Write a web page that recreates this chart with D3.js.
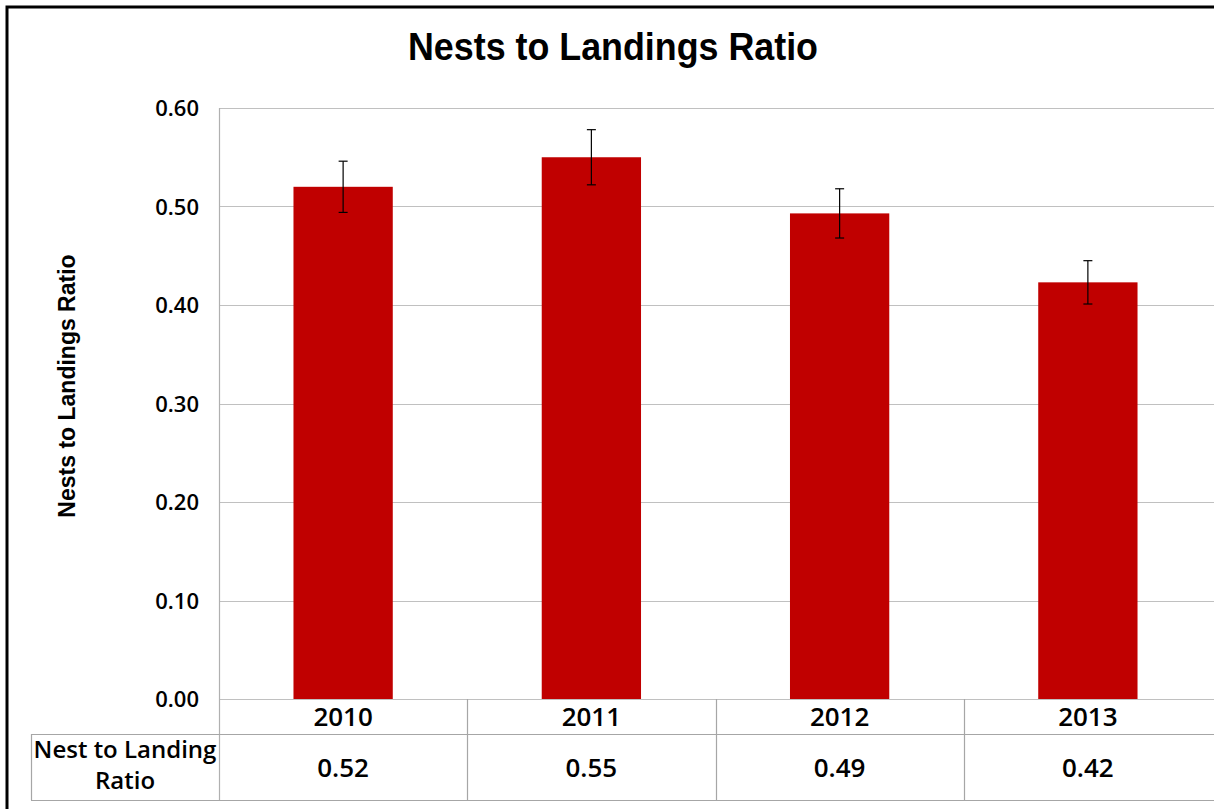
<!DOCTYPE html>
<html>
<head>
<meta charset="utf-8">
<script src="https://cdn.jsdelivr.net/npm/d3@7"></script>
<style>
  html, body { margin: 0; padding: 0; background: #fff; }
  svg { display: block; }
  .lbl { font-family: "Open Sans", "Liberation Sans", sans-serif; font-weight: 600; fill: #000; }
</style>
</head>
<body>
<svg id="chart" width="1214" height="809"></svg>
<script>
const years = ["2010", "2011", "2012", "2013"];
const ratios = [0.52, 0.55, 0.493, 0.423];
const errors = [0.026, 0.028, 0.025, 0.022];
const tableValues = ["0.52", "0.55", "0.49", "0.42"];
const yTicks = [0, 0.1, 0.2, 0.3, 0.4, 0.5, 0.6];
const titleText = "Nests to Landings Ratio";
const yTitle = "Nests to Landings Ratio";
const rowLabel = ["Nest to Landing", "Ratio"];

(function () {
const W = 1214, H = 809;
const pLeft = 219, pRight = 1212, pTop = 108, pBottom = 699;
const tableMid = 734, tableBottom = 800, tableLeft = 31;

const svg = d3.select("#chart");
svg.append("rect").attr("width", W).attr("height", H).attr("fill", "#fff");

const x = d3.scaleBand().domain(years).range([pLeft, pRight]).paddingInner(0.6).paddingOuter(0.3);
const xCell = d3.scaleBand().domain(years).range([pLeft, pRight]).padding(0);
const y = d3.scaleLinear().domain([0, 0.6]).range([pBottom, pTop]);

// gridlines
svg.append("g").selectAll("line").data(yTicks).join("line")
  .attr("x1", pLeft).attr("x2", W)
  .attr("y1", d => Math.round(y(d)) + 0.5).attr("y2", d => Math.round(y(d)) + 0.5)
  .attr("stroke", "#c0c0c0").attr("stroke-width", 1.2);

// y tick labels
svg.append("g").selectAll("text").data(yTicks).join("text")
  .attr("class", "lbl")
  .attr("x", 199).attr("y", d => y(d) + 8)
  .attr("text-anchor", "end")
  .attr("font-size", 22)
  .text(d => d3.format(".2f")(d));

// bars
svg.append("g").selectAll("rect").data(years).join("rect")
  .attr("x", d => x(d)).attr("width", x.bandwidth())
  .attr("y", (d, i) => y(ratios[i]))
  .attr("height", (d, i) => y(0) - y(ratios[i]))
  .attr("fill", "#c00000");

// error bars
const eb = svg.append("g").attr("stroke", "#000").attr("stroke-width", 1.2);
years.forEach((d, i) => {
  const cx = x(d) + x.bandwidth() / 2;
  const y1 = y(ratios[i] + errors[i]), y2 = y(ratios[i] - errors[i]);
  eb.append("line").attr("x1", cx).attr("x2", cx).attr("y1", y1).attr("y2", y2);
  eb.append("line").attr("x1", cx - 4.5).attr("x2", cx + 4.5).attr("y1", y1).attr("y2", y1);
  eb.append("line").attr("x1", cx - 4.5).attr("x2", cx + 4.5).attr("y1", y2).attr("y2", y2);
});

// axis line
svg.append("line").attr("x1", pLeft + 0.5).attr("x2", pLeft + 0.5).attr("y1", pTop).attr("y2", tableBottom)
  .attr("stroke", "#b0b0b0").attr("stroke-width", 1.2);

// table lines
const tl = svg.append("g").attr("stroke", "#a6a6a6").attr("stroke-width", 1.2);
tl.append("line").attr("x1", tableLeft).attr("x2", W).attr("y1", tableMid + 0.5).attr("y2", tableMid + 0.5);
tl.append("line").attr("x1", tableLeft).attr("x2", W).attr("y1", tableBottom + 0.5).attr("y2", tableBottom + 0.5);
tl.append("line").attr("x1", tableLeft + 0.5).attr("x2", tableLeft + 0.5).attr("y1", tableMid).attr("y2", tableBottom);
years.slice(1).forEach(d => {
  tl.append("line").attr("x1", Math.round(xCell(d)) + 0.5).attr("x2", Math.round(xCell(d)) + 0.5)
    .attr("y1", pBottom).attr("y2", tableBottom);
});

// table texts
svg.append("g").selectAll("text").data(years).join("text")
  .attr("class", "lbl")
  .attr("x", d => xCell(d) + xCell.bandwidth() / 2).attr("y", 726)
  .attr("text-anchor", "middle").attr("font-size", 26)
  .text(d => d);
svg.append("g").selectAll("text").data(tableValues).join("text")
  .attr("class", "lbl")
  .attr("x", (d, i) => xCell(years[i]) + xCell.bandwidth() / 2).attr("y", 777)
  .attr("text-anchor", "middle").attr("font-size", 26)
  .text(d => d);
svg.append("g").selectAll("text").data(rowLabel).join("text")
  .attr("class", "lbl")
  .attr("x", (tableLeft + pLeft) / 2).attr("y", (d, i) => 758 + i * 31)
  .attr("text-anchor", "middle").attr("font-size", 24)
  .text(d => d);

// y axis title
svg.append("text")
  .attr("transform", "translate(75,386) rotate(-90)")
  .attr("text-anchor", "middle")
  .attr("font-family", "'Liberation Sans', Arial, sans-serif")
  .attr("font-weight", "bold").attr("font-size", 23)
  .text(yTitle);

// title
svg.append("text")
  .attr("x", 613).attr("y", 60)
  .attr("text-anchor", "middle")
  .attr("font-family", "'Liberation Sans', Arial, sans-serif")
  .attr("font-weight", "bold").attr("font-size", 39)
  .attr("textLength", 410).attr("lengthAdjust", "spacingAndGlyphs")
  .text(titleText);

// outer frame
svg.append("path")
  .attr("d", `M7,${H} L7,7 L${W},7`)
  .attr("fill", "none").attr("stroke", "#000").attr("stroke-width", 3);
})();
</script>
</body>
</html>
